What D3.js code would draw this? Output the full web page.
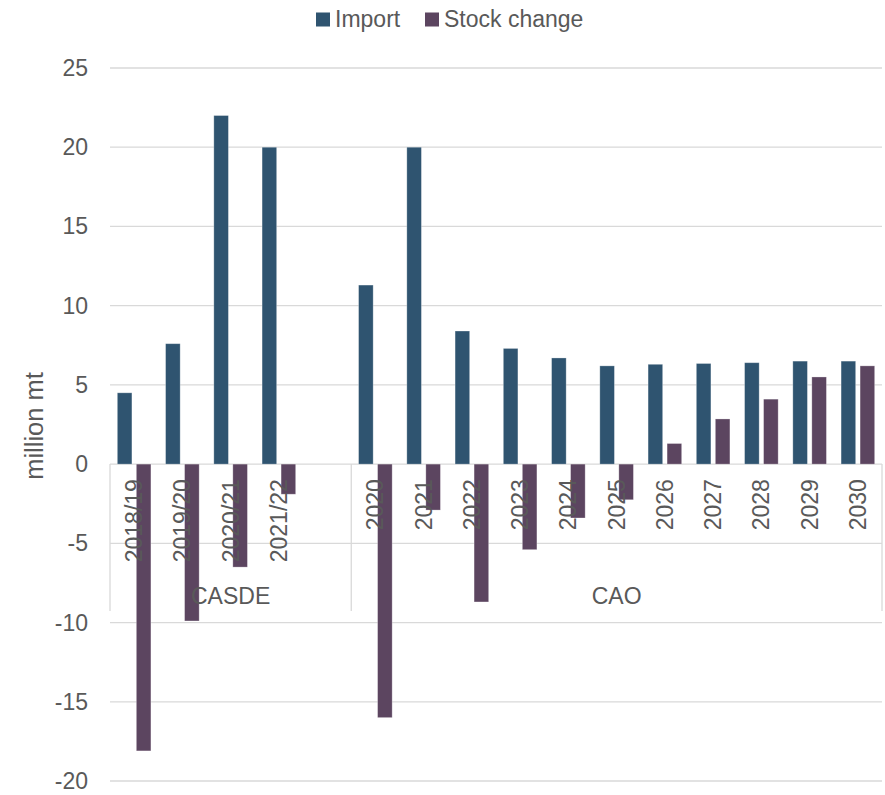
<!DOCTYPE html>
<html>
  <head>
    <meta charset="utf-8">
    <title>Import and stock change</title>
    <script src="https://d3js.org/d3.v7.min.js"></script>
    <style>
      body { margin: 0; background: #fff; }
      text { font-family: "Liberation Sans", Arial, sans-serif; fill: #595959; }
    </style>
  </head>
  <body>
    <div id="chart"></div>
    <script type="text/javascript">
      // categories (blank slot closes the CASDE group)
      var categories = ["2018/19", "2019/20", "2020/21", "2021/22", "",
                        "2020", "2021", "2022", "2023", "2024", "2025",
                        "2026", "2027", "2028", "2029", "2030"];
      var groupNames = ["CASDE", "CAO"];
      var groupSizes = [5, 11];

      var seriesNames = ["Import", "Stock change"];
      var importValues = [4.5, 7.6, 22.0, 20.0, null,
                          11.3, 20.0, 8.4, 7.3, 6.7, 6.2, 6.3, 6.35, 6.4, 6.5, 6.5];
      var stockValues = [-18.1, -9.9, -6.5, -1.9, null,
                         -16.0, -2.9, -8.7, -5.4, -3.4, -2.25, 1.3, 2.85, 4.1, 5.5, 6.2];
      var yTicks = [-20, -15, -10, -5, 0, 5, 10, 15, 20, 25];

      var colors = {"Import": "#2f5470", "Stock change": "#5c4560"};

      var width = 885,
          height = 795;
      var margin = {top: 68, right: 3, bottom: 14, left: 110};
      var innerW = width - margin.left - margin.right,
          innerH = height - margin.top - margin.bottom;

      var svg = d3.select('#chart').append('svg')
          .attr('width', width)
          .attr('height', height);

      var g = svg.append('g')
          .attr('transform', 'translate(' + margin.left + ',' + margin.top + ')');

      var y = d3.scaleLinear().domain([-20, 25]).range([innerH, 0]);
      var x0 = d3.scaleBand().domain(d3.range(categories.length)).range([0, innerW]);
      var x1 = d3.scaleBand().domain(seriesNames).range([0, x0.bandwidth()])
          .paddingInner(0.233).paddingOuter(0.386);

      // gridlines
      g.append('g').selectAll('line')
          .data(yTicks)
          .enter().append('line')
          .attr('x1', 0).attr('x2', innerW)
          .attr('y1', function(d) { return y(d); })
          .attr('y2', function(d) { return y(d); })
          .attr('stroke', '#d9d9d9')
          .attr('stroke-width', 1.3);

      // y tick labels
      g.append('g').selectAll('text')
          .data(yTicks)
          .enter().append('text')
          .attr('x', -22)
          .attr('y', function(d) { return y(d); })
          .attr('dy', '0.35em')
          .attr('text-anchor', 'end')
          .style('font-size', '23px')
          .text(function(d) { return d; });

      // group boundaries of the category axis
      var bounds = [0];
      groupSizes.forEach(function(n, i) { bounds.push(bounds[i] + n); });
      g.append('g').selectAll('line')
          .data(bounds)
          .enter().append('line')
          .attr('x1', function(d) { return d < categories.length ? x0(d) : innerW; })
          .attr('x2', function(d) { return d < categories.length ? x0(d) : innerW; })
          .attr('y1', y(0))
          .attr('y2', y(0) + 147)
          .attr('stroke', '#d9d9d9')
          .attr('stroke-width', 1.3);

      // bars
      var rows = categories.map(function(c, i) {
        return {i: i, values: [
          {key: "Import", v: importValues[i]},
          {key: "Stock change", v: stockValues[i]}
        ]};
      });

      var cat = g.append('g').selectAll('g')
          .data(rows)
          .enter().append('g')
          .attr('transform', function(d) { return 'translate(' + x0(d.i) + ',0)'; });

      cat.selectAll('rect')
          .data(function(d) { return d.values.filter(function(v) { return v.v != null; }); })
          .enter().append('rect')
          .attr('x', function(d) { return x1(d.key); })
          .attr('width', x1.bandwidth())
          .attr('y', function(d) { return y(Math.max(0, d.v)); })
          .attr('height', function(d) { return Math.abs(y(d.v) - y(0)); })
          .attr('fill', function(d) { return colors[d.key]; })
          .attr('stroke', 'rgba(255,255,255,0.35)')
          .attr('stroke-width', 0.8);

      // category labels (on top of bars)
      g.append('g').selectAll('text')
          .data(categories)
          .enter().append('text')
          .attr('transform', function(d, i) {
            return 'translate(' + (x0(i) + x0.bandwidth() / 2) + ',' + (y(0) + 15) + ') rotate(-90)';
          })
          .attr('dy', '0.35em')
          .attr('text-anchor', 'end')
          .style('font-size', '23px')
          .text(function(d) { return d; });

      // group labels
      g.append('g').selectAll('text')
          .data(groupNames)
          .enter().append('text')
          .attr('x', function(d, i) {
            var a = x0(bounds[i]);
            var b = bounds[i + 1] < categories.length ? x0(bounds[i + 1]) : innerW;
            return (a + b) / 2;
          })
          .attr('y', y(0) + 140)
          .attr('text-anchor', 'middle')
          .style('font-size', '23px')
          .text(function(d) { return d; });

      // y axis title
      svg.append('text')
          .attr('transform', 'translate(43,426) rotate(-90)')
          .attr('text-anchor', 'middle')
          .style('font-size', '25.5px')
          .text('million mt');

      // legend
      var legend = svg.append('g');
      var lx = [316, 425];
      seriesNames.forEach(function(s, i) {
        legend.append('rect')
            .attr('x', lx[i]).attr('y', 12.5)
            .attr('width', 14).attr('height', 14)
            .attr('fill', colors[s]);
        legend.append('text')
            .attr('x', lx[i] + 19).attr('y', 26.5)
            .style('font-size', '23px')
            .text(s);
      });
    </script>
  </body>
</html>
